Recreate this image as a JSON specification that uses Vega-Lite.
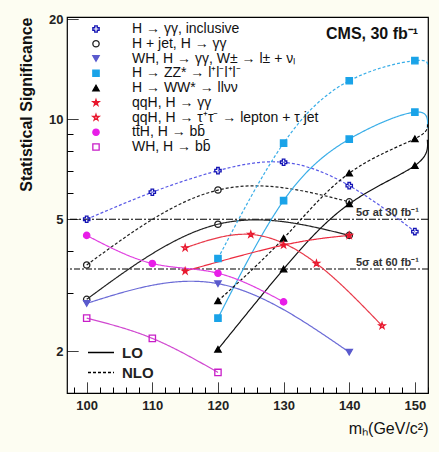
{
  "$schema": "https://vega.github.io/schema/vega-lite/v6.json",
  "width": 361,
  "height": 376,
  "autosize": {"type": "none"},
  "padding": {"left": 67, "top": 17, "right": 11, "bottom": 59},
  "background": "#fdfdf2",
  "config": {
    "view": {"stroke": "black", "strokeWidth": 1.2, "fill": "white"},
    "font": "Liberation Sans"
  },
  "datasets": {
    "curves": [
      {"series": "H → γγ, inclusive", "level": "NLO", "mass": 100, "sig": 5.0, "marker": 1},
      {"series": "H → γγ, inclusive", "level": "NLO", "mass": 110, "sig": 6.03, "marker": 1},
      {"series": "H → γγ, inclusive", "level": "NLO", "mass": 120, "sig": 7.0, "marker": 1},
      {"series": "H → γγ, inclusive", "level": "NLO", "mass": 130, "sig": 7.42, "marker": 1},
      {"series": "H → γγ, inclusive", "level": "NLO", "mass": 140, "sig": 6.31, "marker": 1},
      {"series": "H → γγ, inclusive", "level": "NLO", "mass": 150, "sig": 4.59, "marker": 1},
      {"series": "H + jet, H → γγ", "level": "NLO", "mass": 100, "sig": 3.64, "marker": 1},
      {"series": "H + jet, H → γγ", "level": "NLO", "mass": 120, "sig": 6.12, "marker": 1},
      {"series": "H + jet, H → γγ", "level": "NLO", "mass": 140, "sig": 5.64, "marker": 1},
      {"series": "H + jet, H → γγ", "level": "LO", "mass": 100, "sig": 2.87, "marker": 1},
      {"series": "H + jet, H → γγ", "level": "LO", "mass": 120, "sig": 4.83, "marker": 1},
      {"series": "H + jet, H → γγ", "level": "LO", "mass": 140, "sig": 4.47, "marker": 1},
      {"series": "WH, H → γγ, W± → l± + νₗ", "level": "LO", "mass": 100, "sig": 2.79, "marker": 1},
      {"series": "WH, H → γγ, W± → l± + νₗ", "level": "LO", "mass": 120, "sig": 3.2, "marker": 1},
      {"series": "WH, H → γγ, W± → l± + νₗ", "level": "LO", "mass": 140, "sig": 1.99, "marker": 1},
      {"series": "H → ZZ* → l⁺l⁻l⁺l⁻", "level": "NLO", "mass": 120, "sig": 3.81, "marker": 1},
      {"series": "H → ZZ* → l⁺l⁻l⁺l⁻", "level": "NLO", "mass": 130, "sig": 8.47, "marker": 1},
      {"series": "H → ZZ* → l⁺l⁻l⁺l⁻", "level": "NLO", "mass": 140, "sig": 13.05, "marker": 1},
      {"series": "H → ZZ* → l⁺l⁻l⁺l⁻", "level": "NLO", "mass": 150, "sig": 15.0, "marker": 1},
      {"series": "H → ZZ* → l⁺l⁻l⁺l⁻", "level": "NLO", "mass": 151.9, "sig": 14.4, "marker": 0},
      {"series": "H → ZZ* → l⁺l⁻l⁺l⁻", "level": "LO", "mass": 120, "sig": 2.52, "marker": 1},
      {"series": "H → ZZ* → l⁺l⁻l⁺l⁻", "level": "LO", "mass": 130, "sig": 5.69, "marker": 1},
      {"series": "H → ZZ* → l⁺l⁻l⁺l⁻", "level": "LO", "mass": 140, "sig": 8.71, "marker": 1},
      {"series": "H → ZZ* → l⁺l⁻l⁺l⁻", "level": "LO", "mass": 150, "sig": 10.5, "marker": 1},
      {"series": "H → ZZ* → l⁺l⁻l⁺l⁻", "level": "LO", "mass": 151.9, "sig": 9.4, "marker": 0},
      {"series": "H → WW* → llνν", "level": "NLO", "mass": 120, "sig": 2.84, "marker": 1},
      {"series": "H → WW* → llνν", "level": "NLO", "mass": 130, "sig": 4.38, "marker": 1},
      {"series": "H → WW* → llνν", "level": "NLO", "mass": 140, "sig": 6.88, "marker": 1},
      {"series": "H → WW* → llνν", "level": "NLO", "mass": 150, "sig": 8.73, "marker": 1},
      {"series": "H → WW* → llνν", "level": "NLO", "mass": 151.9, "sig": 9.7, "marker": 0},
      {"series": "H → WW* → llνν", "level": "LO", "mass": 120, "sig": 2.03, "marker": 1},
      {"series": "H → WW* → llνν", "level": "LO", "mass": 130, "sig": 3.54, "marker": 1},
      {"series": "H → WW* → llνν", "level": "LO", "mass": 140, "sig": 5.56, "marker": 1},
      {"series": "H → WW* → llνν", "level": "LO", "mass": 150, "sig": 7.25, "marker": 1},
      {"series": "H → WW* → llνν", "level": "LO", "mass": 151.9, "sig": 8.67, "marker": 0},
      {"series": "qqH, H → γγ", "level": "LO", "mass": 115, "sig": 3.49, "marker": 1},
      {"series": "qqH, H → γγ", "level": "LO", "mass": 130, "sig": 4.18, "marker": 1},
      {"series": "qqH, H → γγ", "level": "LO", "mass": 140, "sig": 4.47, "marker": 1},
      {"series": "qqH, H → τ⁺τ⁻ → lepton + τ jet", "level": "LO", "mass": 115, "sig": 4.1, "marker": 1},
      {"series": "qqH, H → τ⁺τ⁻ → lepton + τ jet", "level": "LO", "mass": 125, "sig": 4.5, "marker": 1},
      {"series": "qqH, H → τ⁺τ⁻ → lepton + τ jet", "level": "LO", "mass": 135, "sig": 3.68, "marker": 1},
      {"series": "qqH, H → τ⁺τ⁻ → lepton + τ jet", "level": "LO", "mass": 145, "sig": 2.39, "marker": 1},
      {"series": "tt̄H, H → bb̄", "level": "LO", "mass": 100, "sig": 4.47, "marker": 1},
      {"series": "tt̄H, H → bb̄", "level": "LO", "mass": 110, "sig": 3.68, "marker": 1},
      {"series": "tt̄H, H → bb̄", "level": "LO", "mass": 120, "sig": 3.44, "marker": 1},
      {"series": "tt̄H, H → bb̄", "level": "LO", "mass": 130, "sig": 2.82, "marker": 1},
      {"series": "WH, H → bb̄", "level": "LO", "mass": 100, "sig": 2.52, "marker": 1},
      {"series": "WH, H → bb̄", "level": "LO", "mass": 110, "sig": 2.19, "marker": 1},
      {"series": "WH, H → bb̄", "level": "LO", "mass": 120, "sig": 1.73, "marker": 1}
    ],
    "refs": [
      {"lumi": "30", "mass": 150.6, "sig": 5.0, "label": "5σ at 30 fb⁻¹"},
      {"lumi": "60", "mass": 150.6, "sig": 3.54, "label": "5σ at 60 fb⁻¹"}
    ],
    "notes": [
      {"mass": 150.5, "sig": 18.0, "label": "CMS, 30 fb⁻¹"}
    ]
  },
  "encoding": {
    "x": {
      "field": "mass", "type": "quantitative",
      "scale": {"domain": [97, 152], "nice": false, "zero": false},
      "axis": {
        "title": "mₕ(GeV/c²)",
        "values": [98, 100, 102, 104, 106, 108, 110, 112, 114, 116, 118, 120, 122, 124, 126, 128, 130, 132, 134, 136, 138, 140, 142, 144, 146, 148, 150, 152],
        "format": "d",
        "labelExpr": "datum.value % 10 === 0 ? datum.label : ''",
        "offset": -11,
        "tickSize": 11,
        "tickDash": {"condition": {"test": "datum.value % 10 === 0", "value": [1, 0]}, "value": [0, 5, 6, 0]},
        "tickColor": "black",
        "tickWidth": 1,
        "domain": false,
        "grid": false,
        "labelFont": "Liberation Sans",
        "labelFontWeight": "bold",
        "labelFontSize": 13,
        "labelColor": "#222222",
        "labelPadding": 6,
        "labelFlush": false,
        "labelOverlap": false,
        "titleFont": "Liberation Sans",
        "titleFontSize": 16,
        "titleFontWeight": "normal",
        "titleColor": "#111111",
        "titleAnchor": "end",
        "titleAlign": "right",
        "titlePadding": 8
      }
    },
    "y": {
      "field": "sig", "type": "quantitative",
      "scale": {"type": "log", "domain": [1.5, 20.3], "nice": false, "zero": false},
      "axis": {
        "title": "Statistical Significance",
        "values": [2, 3, 4, 5, 6, 7, 8, 9, 10, 20],
        "format": "d",
        "labelExpr": "(datum.value === 2 || datum.value === 5 || datum.value === 10 || datum.value === 20) ? datum.label : ''",
        "offset": -11,
        "tickSize": 11,
        "tickDash": {"condition": {"test": "datum.value === 2 || datum.value === 5 || datum.value === 10 || datum.value === 20", "value": [1, 0]}, "value": [0, 5, 6, 0]},
        "tickColor": "black",
        "tickWidth": 1,
        "domain": false,
        "grid": false,
        "labelFont": "Liberation Sans",
        "labelFontWeight": "bold",
        "labelFontSize": 13,
        "labelColor": "#222222",
        "labelPadding": 4,
        "labelFlush": false,
        "labelOverlap": false,
        "titleFont": "Liberation Sans",
        "titleFontSize": 16,
        "titleFontWeight": "bold",
        "titleColor": "#111111",
        "titleAnchor": "end",
        "titlePadding": 14
      }
    }
  },
  "layer": [
    {
      "data": {"name": "refs"},
      "transform": [{"filter": "datum.lumi === '30'"}],
      "mark": {"type": "rule", "color": "black", "strokeWidth": 1.1, "strokeDash": [7, 2, 2, 2]},
      "encoding": {"x": null}
    },
    {
      "data": {"name": "refs"},
      "transform": [{"filter": "datum.lumi === '60'"}],
      "mark": {"type": "rule", "color": "black", "strokeWidth": 1.1, "strokeDash": [6, 2, 2, 2]},
      "encoding": {"x": null}
    },
    {
      "data": {"name": "curves"},
      "mark": {"type": "line", "interpolate": "natural", "strokeWidth": 1.2, "clip": true},
      "encoding": {
        "stroke": {
          "field": "series", "type": "nominal", "legend": null,
          "scale": {
            "domain": ["WH, H → bb̄", "tt̄H, H → bb̄", "qqH, H → τ⁺τ⁻ → lepton + τ jet", "qqH, H → γγ", "H → WW* → llνν", "H → ZZ* → l⁺l⁻l⁺l⁻", "WH, H → γγ, W± → l± + νₗ", "H + jet, H → γγ", "H → γγ, inclusive"],
            "range": ["#d048d0", "#e040e0", "#e83a4a", "#ec2a3e", "#111111", "#3aaee8", "#6a6ad6", "#222222", "#5a5ae6"]
          }
        },
        "strokeDash": {
          "field": "level", "type": "nominal",
          "scale": {"domain": ["LO", "NLO"], "range": [[1, 0], [3, 2]]},
          "legend": {
            "title": null,
            "orient": "none",
            "legendX": 20,
            "legendY": 328,
            "symbolType": "stroke",
            "symbolSize": 676,
            "symbolStrokeWidth": 1.3,
            "symbolStrokeColor": "black",
            "clipHeight": 15,
            "labelFont": "Liberation Sans",
            "labelFontSize": 15,
            "labelFontWeight": "bold",
            "labelColor": "#222222",
            "labelOffset": 7,
            "rowPadding": 4,
            "padding": 0
          }
        }
      }
    },
    {
      "data": {"name": "curves"},
      "transform": [{"filter": "datum.marker === 1"}],
      "mark": {"type": "point", "size": 40, "strokeWidth": 1.3, "opacity": 1},
      "encoding": {
        "color": {
          "field": "series", "type": "nominal",
          "scale": {
            "domain": ["H → γγ, inclusive", "H + jet, H → γγ", "WH, H → γγ, W± → l± + νₗ", "H → ZZ* → l⁺l⁻l⁺l⁻", "H → WW* → llνν", "qqH, H → γγ", "qqH, H → τ⁺τ⁻ → lepton + τ jet", "tt̄H, H → bb̄", "WH, H → bb̄"],
            "range": ["#1414b4", "#222222", "#5a5acd", "#1aa3e8", "#000000", "#e8182e", "#e8182e", "#e81ee8", "#c81ec8"]
          },
          "legend": {
            "title": null, "orient": "none", "legendX": 22, "legendY": 5,
            "labelFont": "Liberation Sans", "labelFontSize": 14, "labelColor": "#111111",
            "labelOffset": 29, "rowPadding": 0.75, "padding": 0,
            "symbolSize": 40, "symbolStrokeWidth": 1.3, "labelLimit": 400
          }
        },
        "fill": {
          "field": "series", "type": "nominal",
          "scale": {
            "domain": ["H → γγ, inclusive", "H + jet, H → γγ", "WH, H → γγ, W± → l± + νₗ", "H → ZZ* → l⁺l⁻l⁺l⁻", "H → WW* → llνν", "qqH, H → γγ", "qqH, H → τ⁺τ⁻ → lepton + τ jet", "tt̄H, H → bb̄", "WH, H → bb̄"],
            "range": ["transparent", "transparent", "#5a5acd", "#1aa3e8", "#000000", "#e8182e", "transparent", "#e81ee8", "transparent"]
          },
          "legend": {
            "title": null, "orient": "none", "legendX": 22, "legendY": 5,
            "labelFont": "Liberation Sans", "labelFontSize": 14, "labelColor": "#111111",
            "labelOffset": 29, "rowPadding": 0.75, "padding": 0,
            "symbolSize": 40, "symbolStrokeWidth": 1.3, "labelLimit": 400
          }
        },
        "shape": {
          "field": "series", "type": "nominal",
          "scale": {
            "domain": ["H → γγ, inclusive", "H + jet, H → γγ", "WH, H → γγ, W± → l± + νₗ", "H → ZZ* → l⁺l⁻l⁺l⁻", "H → WW* → llνν", "qqH, H → γγ", "qqH, H → τ⁺τ⁻ → lepton + τ jet", "tt̄H, H → bb̄", "WH, H → bb̄"],
            "range": ["cross", "circle", "triangle-down", "square", "triangle-up", "M0,-1L0.2245,-0.309L0.951,-0.309L0.363,0.118L0.588,0.809L0,0.382L-0.588,0.809L-0.363,0.118L-0.951,-0.309L-0.2245,-0.309Z", "M0,-1L0.2245,-0.309L0.951,-0.309L0.363,0.118L0.588,0.809L0,0.382L-0.588,0.809L-0.363,0.118L-0.951,-0.309L-0.2245,-0.309Z", "circle", "square"]
          },
          "legend": {
            "title": null, "orient": "none", "legendX": 22, "legendY": 5,
            "labelFont": "Liberation Sans", "labelFontSize": 14, "labelColor": "#111111",
            "labelOffset": 29, "rowPadding": 0.75, "padding": 0,
            "symbolSize": 40, "symbolStrokeWidth": 1.3, "labelLimit": 400
          }
        }
      }
    },
    {
      "data": {"name": "refs"},
      "mark": {"type": "text", "align": "right", "baseline": "bottom", "dy": -1, "font": "Liberation Sans", "fontSize": 11, "fontWeight": "bold", "color": "#333333"},
      "encoding": {"text": {"field": "label"}}
    },
    {
      "data": {"name": "notes"},
      "mark": {"type": "text", "align": "right", "baseline": "middle", "font": "Liberation Sans", "fontSize": 16, "fontWeight": "bold", "color": "#111111"},
      "encoding": {"text": {"field": "label"}}
    }
  ]
}
